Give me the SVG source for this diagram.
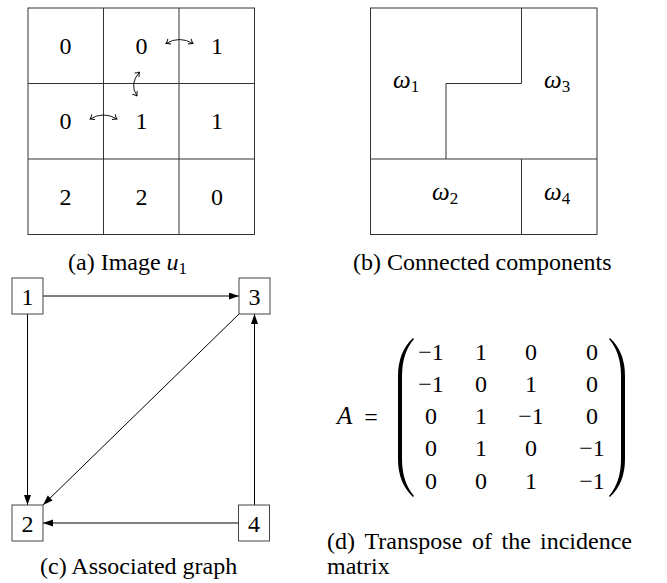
<svg xmlns="http://www.w3.org/2000/svg" width="667" height="583" viewBox="0 0 667 583">
<style>
  .grid{fill:none;stroke:#333;stroke-width:1}
  .box{fill:#fff;stroke:#444;stroke-width:1}
  .edge{fill:none;stroke:#000;stroke-width:1}
  .swap{fill:none;stroke:#000;stroke-width:0.9}
  text{font-family:"Liberation Serif","DejaVu Serif","Noto Serif",serif;fill:#000}
  .num{font-size:24px;text-anchor:middle}
  .cap{font-size:24px}
  .math{font-style:italic}
  .mx{font-size:24px;text-anchor:middle}
  .delim{fill:#000;stroke:none}
</style>
<defs>
  <marker id="tri" markerUnits="userSpaceOnUse" markerWidth="10" markerHeight="8" refX="10" refY="3.5" orient="auto">
    <path d="M0,0 L10,3.5 L0,7 Z" fill="#000"/>
  </marker>
  <marker id="open" markerUnits="userSpaceOnUse" markerWidth="8" markerHeight="8" refX="5" refY="4" orient="auto-start-reverse">
    <path d="M1,1 Q3,3 5,4 Q3,5 1,7" fill="none" stroke="#000" stroke-width="0.9"/>
  </marker>
</defs>

<!-- (a) Image u1 -->
<g id="image-grid">
  <rect class="grid" x="28" y="8" width="226.5" height="226.5"/>
  <line class="grid" x1="103.5" y1="8" x2="103.5" y2="234.5"/>
  <line class="grid" x1="179" y1="8" x2="179" y2="234.5"/>
  <line class="grid" x1="28" y1="83.5" x2="254.5" y2="83.5"/>
  <line class="grid" x1="28" y1="159" x2="254.5" y2="159"/>
  <text class="num" x="65.5" y="54">0</text>
  <text class="num" x="141.5" y="54">0</text>
  <text class="num" x="217" y="54">1</text>
  <text class="num" x="65.5" y="129">0</text>
  <text class="num" x="141.5" y="129">1</text>
  <text class="num" x="217" y="129">1</text>
  <text class="num" x="65.5" y="205">2</text>
  <text class="num" x="141.5" y="205">2</text>
  <text class="num" x="217" y="205">0</text>
</g>
<g id="swap-arrows">
  <path class="swap" d="M166,43.5 Q179.5,35.5 193,43.5" marker-start="url(#open)" marker-end="url(#open)"/>
  <path class="swap" d="M139.5,72 Q129,84 137,96" marker-start="url(#open)" marker-end="url(#open)"/>
  <path class="swap" d="M90,119 Q103.5,111 117,119" marker-start="url(#open)" marker-end="url(#open)"/>
</g>
<text class="cap" x="68" y="270">(a) Image <tspan class="math">u</tspan><tspan font-size="17" dy="4">1</tspan></text>

<!-- (b) Connected components -->
<g id="components">
  <rect class="grid" x="370.5" y="8" width="226.5" height="226.5"/>
  <path class="grid" d="M521.5,8 L521.5,83.5 L446,83.5 L446,159"/>
  <line class="grid" x1="370.5" y1="159" x2="597" y2="159"/>
  <line class="grid" x1="521.5" y1="159" x2="521.5" y2="234.5"/>
  <text class="math" font-size="25" x="393" y="88">ω<tspan font-size="17" font-style="normal" dy="4">1</tspan></text>
  <text class="math" font-size="25" x="544" y="88">ω<tspan font-size="17" font-style="normal" dy="4">3</tspan></text>
  <text class="math" font-size="25" x="432" y="200">ω<tspan font-size="17" font-style="normal" dy="4">2</tspan></text>
  <text class="math" font-size="25" x="544" y="200">ω<tspan font-size="17" font-style="normal" dy="4">4</tspan></text>
</g>
<text class="cap" x="353" y="270">(b) Connected components</text>

<!-- (c) Associated graph -->
<g id="connectors">
  <line class="edge" x1="43" y1="296" x2="239" y2="296" marker-end="url(#tri)"/>
  <line class="edge" x1="27.5" y1="314" x2="27.5" y2="505" marker-end="url(#tri)"/>
  <line class="edge" x1="239" y1="314" x2="43" y2="505" marker-end="url(#tri)"/>
  <line class="edge" x1="238" y1="523" x2="43" y2="523" marker-end="url(#tri)"/>
  <line class="edge" x1="254.5" y1="505" x2="254.5" y2="314" marker-end="url(#tri)"/>
</g>
<g id="node1"><rect class="box" x="12" y="278" width="31" height="36"/><text class="num" x="27.5" y="304.5">1</text></g>
<g id="node3"><rect class="box" x="239" y="278" width="31" height="36"/><text class="num" x="254.5" y="304.5">3</text></g>
<g id="node2"><rect class="box" x="12" y="505" width="31" height="36"/><text class="num" x="27.5" y="531.5">2</text></g>
<g id="node4"><rect class="box" x="238.5" y="505" width="31" height="36"/><text class="num" x="254" y="531.5">4</text></g>
<text class="cap" x="40" y="574">(c) Associated graph</text>

<!-- (d) Matrix -->
<g id="matrix">
  <text class="math" font-size="25" x="337" y="424">A</text>
  <text class="mx" font-size="28" x="371" y="425">=</text>
  <path class="delim" d="M413,338 Q398,352 398,376 L398,459 Q398,483 413,497 L414,496 Q402,482 402,459 L402,376 Q402,353 414,339 Z"/>
  <path class="delim" d="M610,338 Q625,352 625,376 L625,459 Q625,483 610,497 L609,496 Q621,482 621,459 L621,376 Q621,353 609,339 Z"/>
  <text class="mx" x="431" y="360">−1</text><text class="mx" x="481" y="360">1</text><text class="mx" x="531" y="360">0</text><text class="mx" x="592" y="360">0</text>
  <text class="mx" x="431" y="392">−1</text><text class="mx" x="481" y="392">0</text><text class="mx" x="531" y="392">1</text><text class="mx" x="592" y="392">0</text>
  <text class="mx" x="431" y="424">0</text><text class="mx" x="481" y="424">1</text><text class="mx" x="531" y="424">−1</text><text class="mx" x="592" y="424">0</text>
  <text class="mx" x="431" y="456">0</text><text class="mx" x="481" y="456">1</text><text class="mx" x="531" y="456">0</text><text class="mx" x="592" y="456">−1</text>
  <text class="mx" x="431" y="489">0</text><text class="mx" x="481" y="489">0</text><text class="mx" x="531" y="489">1</text><text class="mx" x="592" y="489">−1</text>
</g>
<text class="cap" y="549"><tspan x="327">(d)</tspan><tspan x="364.5">Transpose</tspan><tspan x="472">of</tspan><tspan x="501.5">the</tspan><tspan x="540">incidence</tspan></text>
<text class="cap" x="327" y="574">matrix</text>
</svg>
